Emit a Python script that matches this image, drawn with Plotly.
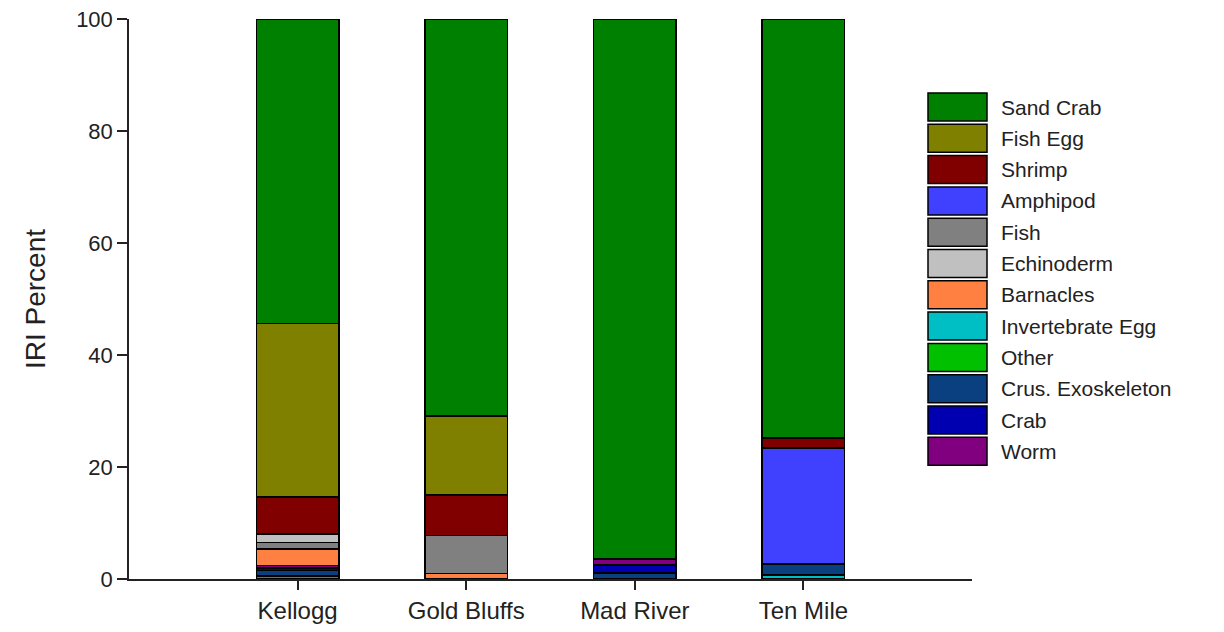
import plotly.graph_objects as go

sites = ["Kellogg", "Gold Bluffs", "Mad River", "Ten Mile"]

# stacking order, bottom to top
invertebrate_egg = [0.1, 0.0, 0.0, 0.6]
other = [0.4, 0.1, 0.0, 0.2]
crus_exoskeleton = [1.0, 0.0, 1.1, 1.9]
crab = [0.5, 0.0, 1.4, 0.0]
worm = [0.4, 0.0, 1.1, 0.0]
barnacles = [3.0, 0.9, 0.0, 0.0]
fish = [1.1, 6.8, 0.0, 0.0]
echinoderm = [1.5, 0.0, 0.0, 0.0]
amphipod = [0.0, 0.0, 0.0, 20.7]
shrimp = [6.6, 7.2, 0.0, 1.8]
fish_egg = [31.0, 14.1, 0.0, 0.0]
sand_crab = [54.4, 70.9, 96.4, 74.8]

stack = [
    ("Invertebrate Egg", invertebrate_egg, "#00BFC4"),
    ("Other", other, "#00C000"),
    ("Crus. Exoskeleton", crus_exoskeleton, "#0A3F80"),
    ("Crab", crab, "#0000B0"),
    ("Worm", worm, "#800080"),
    ("Barnacles", barnacles, "#FF8040"),
    ("Fish", fish, "#808080"),
    ("Echinoderm", echinoderm, "#C0C0C0"),
    ("Amphipod", amphipod, "#4040FF"),
    ("Shrimp", shrimp, "#800000"),
    ("Fish Egg", fish_egg, "#808000"),
    ("Sand Crab", sand_crab, "#008000"),
]

legend_order = ["Sand Crab", "Fish Egg", "Shrimp", "Amphipod", "Fish", "Echinoderm",
                "Barnacles", "Invertebrate Egg", "Other", "Crus. Exoskeleton", "Crab", "Worm"]

FONT = "Arial, Liberation Sans, sans-serif"
OFF = 8  # page body margin

fig = go.Figure()
for name, vals, color in stack:
    fig.add_trace(go.Bar(
        x=[1, 2, 3, 4], y=vals, name=name, width=0.49,
        marker=dict(color=color, line=dict(color="black", width=1.5)),
        showlegend=False
    ))

# plot area in screen pixels: x 129..972, y 19..579
L, R, T, B = 129, 972, 19, 579
def px_x(p):
    return (p - L) / (R - L)
def px_y(p):
    return (B - p) / (B - T)

colors = {n: c for n, _, c in stack}
shapes = []
annotations = []
for i, name in enumerate(legend_order):
    top = 93 + i * 31.3
    shapes.append(dict(
        type="rect", xref="paper", yref="paper",
        x0=px_x(928), x1=px_x(987), y0=px_y(top + 28), y1=px_y(top),
        fillcolor=colors[name], line=dict(color="black", width=1.5)
    ))
    annotations.append(dict(
        xref="paper", yref="paper", x=px_x(999), y=px_y(top + 14),
        text=name, showarrow=False, xanchor="left", yanchor="middle",
        font=dict(family=FONT, size=21, color="#222")
    ))

fig.update_layout(
    barmode="stack",
    width=1224, height=632,
    margin=dict(l=L - OFF, r=1224 - R + OFF, t=T - OFF, b=632 - B + OFF),
    plot_bgcolor="white", paper_bgcolor="white",
    font=dict(family=FONT, color="#222"),
    shapes=shapes, annotations=annotations,
    showlegend=False,
)
fig.update_xaxes(
    range=[0, 5], tickvals=[1, 2, 3, 4], ticktext=sites,
    showline=True, linecolor="#222", linewidth=1.5,
    ticks="outside", ticklen=9, tickcolor="#222", tickwidth=1.5,
    tickfont=dict(size=24), showgrid=False, zeroline=False,
    automargin=False
)
fig.update_yaxes(
    range=[0, 100], tickvals=[0, 20, 40, 60, 80, 100],
    showline=True, linecolor="#222", linewidth=1.5,
    ticks="outside", ticklen=10, tickcolor="#222", tickwidth=1.5,
    tickfont=dict(size=22), showgrid=False, zeroline=False,
    ticklabeloverflow="allow", automargin=False,
    title=dict(text="IRI Percent", font=dict(size=28), standoff=22)
)

fig.write_html("out.html")
